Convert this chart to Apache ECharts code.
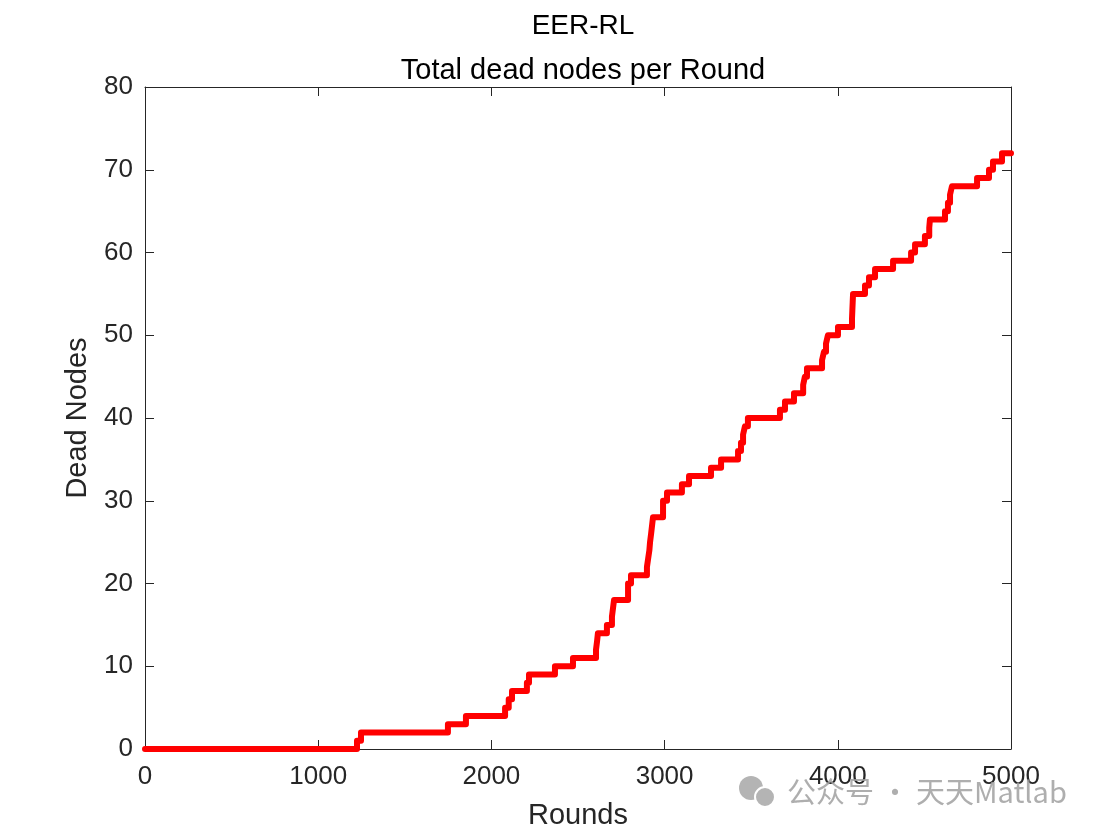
<!DOCTYPE html>
<html>
<head>
<meta charset="utf-8">
<script src="https://cdn.jsdelivr.net/npm/echarts@6/dist/echarts.min.js"></script>
<style>
html,body{margin:0;padding:0;background:#ffffff;}
#chart{width:1113px;height:836px;}
</style>
</head>
<body>
<div id="chart"></div>
<script>
// Round at which the dead-node count changes, and the new count from that round on
const rounds = [0, 1224, 1247, 1749, 1853, 2079, 2100, 2119, 2205, 2217, 2367, 2471, 2604, 2610, 2615, 2667, 2696, 2702, 2708, 2789, 2806, 2898, 2905, 2912, 2916, 2922, 2933, 2991, 3014, 3100, 3141, 3268, 3326, 3424, 3441, 3453, 3464, 3481, 3666, 3695, 3747, 3800, 3810, 3822, 3909, 3920, 3932, 3943, 4001, 4082, 4084, 4086, 4088, 4157, 4180, 4215, 4319, 4423, 4446, 4503, 4528, 4532, 4619, 4636, 4648, 4659, 4804, 4873, 4896, 4948, 5000];
const deadNodes = [0, 1, 2, 3, 4, 5, 6, 7, 8, 9, 10, 11, 12, 13, 14, 15, 16, 17, 18, 20, 21, 22, 23, 24, 25, 26, 28, 30, 31, 32, 33, 34, 35, 36, 37, 38, 39, 40, 41, 42, 43, 44, 45, 46, 47, 48, 49, 50, 51, 52, 53, 54, 55, 56, 57, 58, 59, 60, 61, 62, 63, 64, 65, 66, 67, 68, 69, 70, 71, 72, 72];
const xTicks = [0, 1000, 2000, 3000, 4000, 5000];
const yTicks = [0, 10, 20, 30, 40, 50, 60, 70, 80];
const titleMain = 'EER-RL';
const titleSub = 'Total dead nodes per Round';
const xName = 'Rounds';
const yName = 'Dead Nodes';
const watermark = '公众号 · 天天Matlab';

const data = rounds.map((r, i) => [r, deadNodes[i]]);
const axisColor = '#262626';
const font = 'Liberation Sans, Arial, sans-serif';

const chart = echarts.init(document.getElementById('chart'), null, {renderer: 'canvas'});
const baseX = {
  type: 'value', min: xTicks[0], max: xTicks[xTicks.length - 1], interval: xTicks[1] - xTicks[0],
  axisLine: {show: true, onZero: false, lineStyle: {color: axisColor, width: 1}},
  axisTick: {show: true, inside: true, length: 9, lineStyle: {color: axisColor}},
  splitLine: {show: false}
};
const baseY = {
  type: 'value', min: yTicks[0], max: yTicks[yTicks.length - 1], interval: yTicks[1] - yTicks[0],
  axisLine: {show: true, onZero: false, lineStyle: {color: axisColor, width: 1}},
  axisTick: {show: true, inside: true, length: 9, lineStyle: {color: axisColor}},
  splitLine: {show: false}
};
chart.setOption({
  backgroundColor: '#ffffff',
  animation: false,
  title: [
    {text: titleMain, left: 578, top: 7, textAlign: 'center',
     textStyle: {fontFamily: font, fontWeight: 'normal', fontSize: 28, color: '#000'}},
    {text: titleSub, left: 578, top: 51, textAlign: 'center',
     textStyle: {fontFamily: font, fontWeight: 'normal', fontSize: 29, color: '#000'}}
  ],
  grid: {left: 145, right: 102, top: 87, bottom: 87, containLabel: false},
  xAxis: [
    Object.assign({}, baseX, {
      position: 'bottom', name: xName, nameLocation: 'middle', nameGap: 52,
      nameTextStyle: {fontFamily: font, fontSize: 29, color: axisColor},
      axisLabel: {show: true, margin: 15, fontFamily: font, fontSize: 26, color: axisColor,
                  formatter: v => String(v)}
    }),
    Object.assign({}, baseX, {position: 'top', axisLabel: {show: false}})
  ],
  yAxis: [
    Object.assign({}, baseY, {
      position: 'left', name: yName, nameLocation: 'middle', nameGap: 53,
      nameTextStyle: {fontFamily: font, fontSize: 29, color: axisColor},
      axisLabel: {show: true, margin: 12, fontFamily: font, fontSize: 26, color: axisColor,
                  formatter: v => String(v)}
    }),
    Object.assign({}, baseY, {position: 'right', axisLabel: {show: false}})
  ],
  series: [{
    type: 'line', xAxisIndex: 0, yAxisIndex: 0, step: 'end', data: data,
    showSymbol: false, clip: false,
    lineStyle: {color: '#ff0000', width: 6, cap: 'round', join: 'round'}
  }],
  graphic: [
    {type: 'circle', shape: {cx: 751, cy: 788, r: 12}, style: {fill: '#b4b4b4'}, z: 99},
    {type: 'circle', shape: {cx: 765, cy: 797, r: 10}, style: {fill: '#b4b4b4', stroke: '#ffffff', lineWidth: 2}, z: 99},
    {type: 'text', left: 787, top: 777, z: 100,
     style: {text: watermark, fill: 'rgba(160,160,160,0.85)',
             font: '29px "Noto Sans CJK SC", sans-serif'}}
  ]
});
</script>
</body>
</html>
